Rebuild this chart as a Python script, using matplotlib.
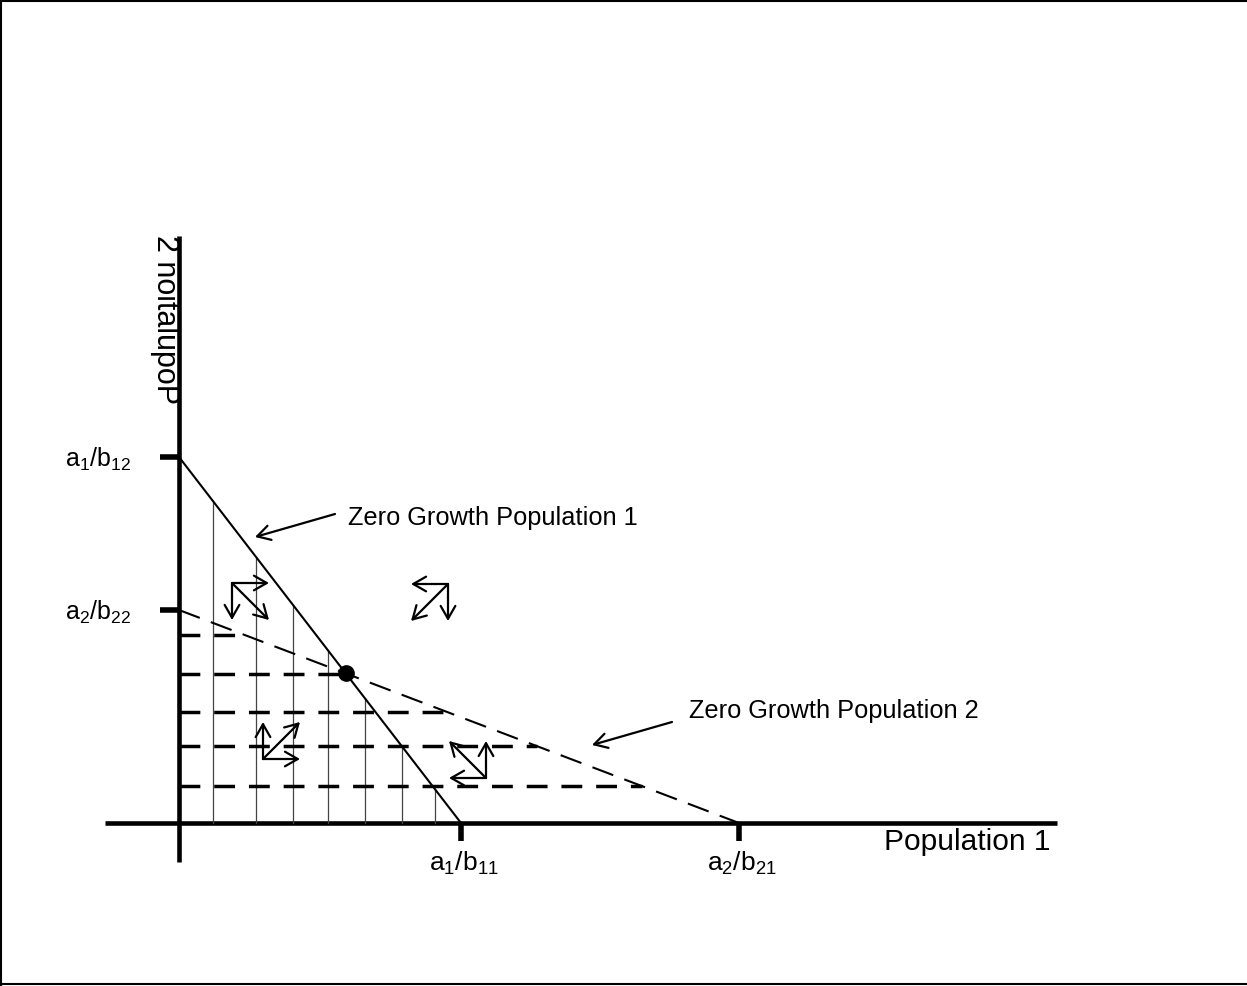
import numpy as np
import matplotlib.pyplot as plt
from matplotlib.lines import Line2D

# intercepts of the two zero-growth isoclines (100 px per unit)
k11 = 2.82   # a1/b11 on Population 1 axis
k21 = 5.60   # a2/b21 on Population 1 axis
k12 = 3.66   # a1/b12 on Population 2 axis
k22 = 2.13   # a2/b22 on Population 2 axis

# hatching: vertical lines under isocline 1, dashed rows under isocline 2
hatch_x = [0.34, 0.77, 1.14, 1.49, 1.86, 2.23, 2.56]
hatch_y = [1.88, 1.49, 1.11, 0.77, 0.37]

# direction arrow groups: corner and signs (dN1, dN2)
arrow_corners = [(0.53, 2.40), (2.69, 2.39), (0.84, 0.64), (3.07, 0.45)]
arrow_signs = [(1, -1), (-1, -1), (1, 1), (-1, 1)]
arrow_len = 0.37

x_tick_labels = [r'a$_{1}$/b$_{11}$', r'a$_{2}$/b$_{21}$']
y_tick_labels = [r'a$_{1}$/b$_{12}$', r'a$_{2}$/b$_{22}$']

plt.rcParams['font.family'] = ['Liberation Sans', 'DejaVu Sans']
plt.rcParams['mathtext.fontset'] = 'custom'
plt.rcParams['mathtext.rm'] = 'Liberation Sans'
plt.rcParams['mathtext.it'] = 'Liberation Sans'
plt.rcParams['lines.scale_dashes'] = False

fig = plt.figure(figsize=(12.47, 9.86), dpi=100)
ax = fig.add_axes([0, 0, 1, 1])
ax.set_xlim(-1.79, 10.68)
ax.set_ylim(-1.63, 8.23)
ax.axis('off')

# frame on top, left, bottom
for xs, ys in [([0.001, 0.001], [0, 1]), ([0, 1], [0.999, 0.999]), ([0, 1], [0.002, 0.002])]:
    fig.add_artist(Line2D(xs, ys, transform=fig.transFigure, color='black', lw=1.5))

# axes
ax.plot([0, 0], [-0.39, 5.87], color='black', lw=3.3, solid_capstyle='butt')
ax.plot([-0.74, 8.78], [0, 0], color='black', lw=3.3, solid_capstyle='butt')

# ticks + labels
for xv, lab in zip([k11, k21], x_tick_labels):
    ax.plot([xv, xv], [0, -0.18], color='black', lw=4, solid_capstyle='butt')
    ax.text(xv + 0.03, -0.40, lab, ha='center', va='center', fontsize=19)
for yv, lab in zip([k12, k22], y_tick_labels):
    ax.plot([-0.19, 0], [yv, yv], color='black', lw=4, solid_capstyle='butt')
    ax.text(-0.48, yv - 0.02, lab, ha='right', va='center', fontsize=18)

# hatching
for xv in hatch_x:
    ax.plot([xv, xv], [0, k12 * (1 - xv / k11)], color='#444444', lw=0.9)
for yv in hatch_y:
    ax.plot([0, k21 * (1 - yv / k22)], [yv, yv], color='black', lw=2.5,
            dashes=(15, 10), dash_capstyle='butt')

# isoclines
ax.plot([0, k11], [k12, 0], color='black', lw=1.5)
ax.plot([0, k21], [k22, 0], color='black', lw=1.5, dashes=(16, 8.5), dash_capstyle='butt')

# equilibrium point
n1 = k11 * k21 * (k12 - k22) / (k12 * k21 - k11 * k22)
n2 = k12 * (1 - n1 / k11)
ax.plot(n1, n2, 'o', color='black', markersize=11)

# direction arrows
aprops = dict(arrowstyle='->,head_length=0.42,head_width=0.24', lw=1.6, color='black',
              shrinkA=0, shrinkB=0, mutation_scale=22)
for (cx, cy), (sx, sy) in zip(arrow_corners, arrow_signs):
    for dx, dy in [(sx, 0), (0, sy), (sx, sy)]:
        ax.annotate('', xy=(cx + dx * arrow_len, cy + dy * arrow_len), xytext=(cx, cy),
                    arrowprops=aprops)

# labels with pointers
ax.annotate('', xy=(0.76, 2.86), xytext=(1.56, 3.09), arrowprops=aprops)
ax.text(1.69, 3.05, 'Zero Growth Population 1', ha='left', va='center', fontsize=18.3)
ax.annotate('', xy=(4.13, 0.78), xytext=(4.93, 1.01), arrowprops=aprops)
ax.text(5.10, 1.12, 'Zero Growth Population 2', ha='left', va='center', fontsize=18.3)

ax.text(7.05, -0.19, 'Population 1', ha='left', va='center', fontsize=21.5)
ax.text(-0.14, 5.88, '2 noitalupoP', rotation=-90, ha='center', va='top', fontsize=22)

fig.savefig('out.png', dpi=100)
